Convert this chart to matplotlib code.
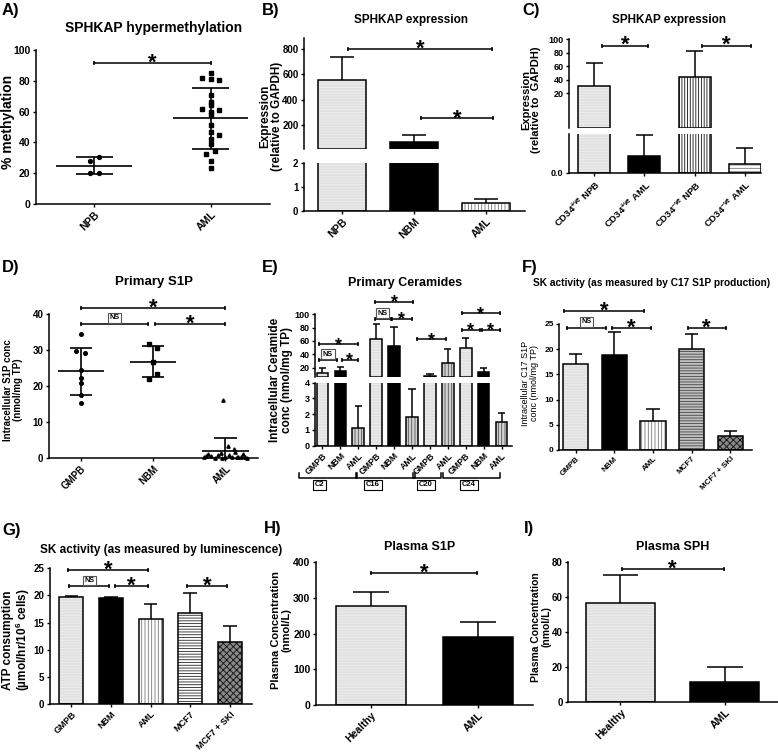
import numpy as np
import matplotlib
matplotlib.use('Agg')
import matplotlib.pyplot as plt
from matplotlib import transforms

plt.rcParams['font.family'] = ['Liberation Sans', 'DejaVu Sans']
plt.rcParams['font.weight'] = 'bold'
plt.rcParams['axes.labelweight'] = 'bold'
plt.rcParams['mathtext.fontset'] = 'custom'
plt.rcParams['mathtext.rm'] = 'Liberation Sans:bold'
plt.rcParams['mathtext.bf'] = 'Liberation Sans:bold'
plt.rcParams['mathtext.it'] = 'Liberation Sans:bold'
plt.rcParams['hatch.linewidth'] = 0.6

W, H = 778, 756

# ---------------- data ----------------
# A) SPHKAP hypermethylation (% methylation, individual samples)
a_groups = ['NPB', 'AML']
a_npb = [28, 30.5, 20, 20]
a_npb_dx = [-1, 1, -1, 1]
a_aml = [85, 82, 81, 80.5, 71, 66.5, 64, 62, 60, 61, 57.5, 51, 47, 45, 42, 39,
         32.5, 34.5, 28, 23.5]
a_aml_dx = [0, -1, 0, 1, 0, 0, 0, -1, 0, 1, 0, 0, 0, 1, 0, 0, -0.5, 0.5, 0, 0]
a_mean = [24.75, 55.8]
a_sd = [5.45, 19.8]

# B) SPHKAP expression (relative to GAPDH)
b_groups = ['NPB', 'NBM', 'AML']
b_vals = [555, 61, 0.34]
b_err = [180, 56, 0.15]
b_kind = ['light', 'black', 'vstripe']

# C) SPHKAP expression in CD34 fractions
c_groups = [r'CD34$^{+ve}$ NPB', r'CD34$^{+ve}$ AML',
            r'CD34$^{-ve}$ NPB', r'CD34$^{-ve}$ AML']
c_vals = [31.3, 0.44, 44.1, 0.23]
c_err = [33.4, 0.53, 38.7, 0.42]
c_kind = ['light', 'black', 'vdense', 'hgrey']

# D) Primary S1P (nmol/mg TP)
d_groups = ['GMPB', 'NBM', 'AML']
d_gmpb = [34.4, 29.7, 29.2, 24.4, 22.3, 20.7, 17.5, 15.3]
d_gmpb_dx = [0, -1, 1, 0, 0, 0, 0, 0]
d_nbm = [31.7, 30.6, 26.6, 23.2, 21.9]
d_nbm_dx = [-1, 1, 0, 1, -1]
d_aml = [16, 3.2, 2.4, 1.2, 0.5, 0.8, 1.5, 0.4, 0.3, 0.2, 0.2, 0.1, 0.3, 0.9,
         1.0, 0.1, 0.1, 1.8, 0.6, 0.2, 0.4]
d_aml_dx = [-0.1, 0.1, 0.4, -0.8, -0.65, -0.35, -0.2, 0.3, 0.6, 0.9, -1, -0.5,
            0, 0.15, 0.8, 1, -0.15, 0.45, -0.9, 0.55, 0.72]
d_mean = [24.1, 26.7, 1.95]
d_sd = [6.5, 4.3, 3.65]

# E) Primary ceramides
e_labels = ['GMPB', 'NBM', 'AML', 'GMPB', 'NBM', 'AML', 'GMPB', 'AML',
            'GMPB', 'NBM', 'AML']
e_vals = [12.4, 15, 1.15, 62.5, 53, 1.82, 7.5, 26.5, 50, 14, 1.52]
e_err = [6.6, 6.5, 1.37, 22.5, 28, 1.78, 2.3, 21.5, 14.5, 5.5, 0.58]
e_kind = ['light', 'black', 'vgrey', 'light', 'black', 'vgrey', 'light',
          'vgrey', 'light', 'black', 'vgrey']
e_groups = ['C2', 'C16', 'C20', 'C24']
e_group_span = [(-1.3, 1.92), (1.88, 5.17), (5.06, 6.62), (6.73, 9.91)]
e_group_lx = [-0.15, 2.83, 5.78, 8.17]

# F) SK activity (C17 S1P production)
f_groups = ['GMPB', 'NBM', 'AML', 'MCF7', 'MCF7 + SKI']
f_vals = [17.1, 18.8, 5.8, 20.0, 2.85]
f_err = [1.95, 4.7, 2.3, 3.1, 0.95]
f_kind = ['light', 'black', 'vstripe', 'hmid', 'check']

# G) SK activity (luminescence)
g_groups = ['GMPB', 'NBM', 'AML', 'MCF7', 'MCF7 + SKI']
g_vals = [19.7, 19.6, 15.7, 16.7, 11.5]
g_err = [0.2, 0.15, 2.7, 3.8, 2.95]
g_kind = ['light', 'black', 'vstripe', 'hblack', 'check']

# H) Plasma S1P, I) Plasma SPH
h_groups = ['Healthy', 'AML']
h_vals = [277, 189.5]
h_err = [40, 43.5]
i_vals = [56.5, 11.3]
i_err = [16, 8.4]

FILL = {
    'light': ('#e1e1e1', '------', '#eeeeee'),
    'black': ('black', None, None),
    'vstripe': ('white', '|||||', '#777777'),
    'vgrey': ('#d0d0d0', '|||||', '#555555'),
    'vdense': ('white', '||||||', '#111111'),
    'hgrey': ('white', '-----', '#777777'),
    'hblack': ('white', '------', '#222222'),
    'hmid': ('#c0c0c0', '------', '#444444'),
    'check': ('#888888', 'xxxxx', '#111111'),
}

fig = plt.figure(figsize=(W / 100, H / 100), dpi=100)


def px_ax(x0, y0, x1, y1):
    return fig.add_axes([x0 / W, 1 - y1 / H, (x1 - x0) / W, (y1 - y0) / H])


def ftext(x, y, s, **kw):
    kw.setdefault('ha', 'center')
    kw.setdefault('va', 'center')
    fig.text(x / W, 1 - y / H, s, **kw)


def style(ax, fs, bottom=True):
    for s in ['top', 'right']:
        ax.spines[s].set_visible(False)
    ax.spines['left'].set_linewidth(1.1)
    ax.spines['bottom'].set_linewidth(1.1)
    ax.tick_params(length=2.5, width=1.0, labelsize=fs, pad=1.5)
    if not bottom:
        ax.spines['bottom'].set_visible(False)
        ax.tick_params(axis='x', bottom=False, labelbottom=False)


def xlabels(ax, labels, fs):
    ax.set_xticks(range(len(labels)))
    ax.set_xticklabels(labels, rotation=45, ha='right', rotation_mode='anchor',
                       fontsize=fs)


def draw_bars(ax, vals, errs, kinds, width=0.65, cap=0.17, floor=None):
    base = ax.get_ylim()[0] if floor is not None else 0
    for xi, (v, e, k) in enumerate(zip(vals, errs, kinds)):
        if floor is not None and v <= floor:
            continue
        fc, hatch, hc = FILL[k]
        if hatch:
            ax.bar(xi, v - base, width, bottom=base, color=fc, edgecolor=hc,
                   hatch=hatch, linewidth=0)
            ax.bar(xi, v - base, width, bottom=base, facecolor='none',
                   edgecolor='black', linewidth=1.1)
        else:
            ax.bar(xi, v - base, width, bottom=base, color=fc,
                   edgecolor='black', linewidth=1.1)
        ax.vlines(xi, v, v + e, color='black', lw=1.1)
        ax.hlines(v + e, xi - cap, xi + cap, color='black', lw=1.1)


def mean_sd(ax, means, sds, half=0.325, cap=0.16):
    x = np.arange(len(means))
    lo = np.subtract(means, sds)
    hi = np.add(means, sds)
    ax.hlines(means, x - half, x + half, color='black', lw=1.2)
    ax.vlines(x, lo, hi, color='black', lw=1.2)
    ax.hlines(lo, x - cap, x + cap, color='black', lw=1.2)
    ax.hlines(hi, x - cap, x + cap, color='black', lw=1.2)


def sig(ax, x1, x2, y, fs=16, ns=False, hpx=7):
    ax.plot([x1, x2], [y, y], color='black', lw=1.1, marker='|', ms=3.5,
            mew=1.1, clip_on=False)
    xm = (x1 + x2) / 2
    if ns:
        ax.annotate('NS', (xm, y), xytext=(0, 1.6), textcoords='offset points',
                    ha='center', va='bottom', fontsize=5.2,
                    annotation_clip=False,
                    bbox=dict(boxstyle='square,pad=0.2', fc='white',
                              ec='#555555', lw=0.8))
    else:
        ax.annotate('*', (xm, y), xytext=(0, hpx / 1.389 - 0.58 * fs),
                    textcoords='offset points', ha='center', va='baseline',
                    fontsize=fs, annotation_clip=False)


# ---------------- A ----------------
axA = px_ax(36, 50, 270, 204)
axA.plot(0 + 0.04 * np.array(a_npb_dx), a_npb, 'o', color='black', ms=2.8)
axA.plot(1 + 0.075 * np.array(a_aml_dx), a_aml, 's', color='black', ms=2.6)
mean_sd(axA, a_mean, a_sd)
axA.set_xlim(-0.5, 1.51)
axA.set_ylim(0, 100)
axA.set_yticks(range(0, 101, 20))
style(axA, 7.5)
xlabels(axA, a_groups, 7.5)
sig(axA, 0, 1, 91.6)
ftext(154, 28, 'SPHKAP hypermethylation', fontsize=10)
ftext(8, 122, '% methylation', fontsize=10, rotation=90)
ftext(2, 11, 'A)', fontsize=12, ha='left')

# ---------------- B ----------------
axB1 = px_ax(304, 38, 525, 149)
axB2 = px_ax(304, 163, 525, 211)
axB1.set_ylim(6, 890)
axB2.set_ylim(0, 2)
for ax in (axB1, axB2):
    ax.set_xlim(-0.53, 2.54)
draw_bars(axB1, b_vals, b_err, b_kind, width=0.66, floor=2)
draw_bars(axB2, b_vals, b_err, b_kind, width=0.66)
axB1.set_yticks([200, 400, 600, 800])
axB2.set_yticks([0, 1, 2])
style(axB1, 7, bottom=False)
style(axB2, 7)
xlabels(axB2, b_groups, 7.5)
sig(axB1, 0.08, 2.08, 800)
sig(axB1, 1.1, 2.1, 249)
ftext(411, 20, 'SPHKAP expression', fontsize=8.5)
ftext(271, 116, 'Expression\n(relative to GAPDH)', fontsize=8.5, rotation=90,
      linespacing=1.0)
ftext(262, 11, 'B)', fontsize=12, ha='left')

# ---------------- C ----------------
axC1 = px_ax(569, 39, 761, 128)
axC2 = px_ax(569, 134, 761, 173)
axC1.set_ylim(-30.9, 100.4)
axC2.set_ylim(0, 1.0)
for ax in (axC1, axC2):
    ax.set_xlim(-0.5, 3.32)
draw_bars(axC1, c_vals, c_err, c_kind, width=0.64, floor=1.0)
draw_bars(axC2, c_vals, c_err, c_kind, width=0.64)
axC1.set_yticks([20, 40, 60, 80, 100])
axC2.set_yticks([0])
axC2.set_yticklabels(['0.0'])
style(axC1, 6.5, bottom=False)
style(axC2, 6.5)
xlabels(axC2, c_groups, 6.8)
sig(axC1, 0.16, 1.07, 90.6, hpx=8)
sig(axC1, 2.15, 3.12, 90.6, hpx=8)
ftext(669, 20, 'SPHKAP expression', fontsize=8.5)
ftext(531, 100, 'Expression\n(relative to  GAPDH)', fontsize=8, rotation=90,
      linespacing=1.0)
ftext(522, 11, 'C)', fontsize=12, ha='left')

# ---------------- D ----------------
axD = px_ax(49, 314, 258, 458)
axD.plot(0 + 0.06 * np.array(d_gmpb_dx), d_gmpb, 'o', color='black', ms=2.6)
axD.plot(1 + 0.06 * np.array(d_nbm_dx), d_nbm, 's', color='black', ms=2.5)
axD.plot(2 + 0.3 * np.array(d_aml_dx), d_aml, '^', color='black', ms=2.4,
         clip_on=False)
mean_sd(axD, d_mean, d_sd, half=0.32, cap=0.156)
axD.set_xlim(-0.44, 2.45)
axD.set_ylim(0, 40)
axD.set_yticks(range(0, 41, 10))
style(axD, 7)
xlabels(axD, d_groups, 7)
sig(axD, 0, 2, 41.75)
sig(axD, 0, 0.93, 37.3, ns=True)
sig(axD, 1.03, 2, 37.3)
ftext(154, 282, 'Primary S1P', fontsize=9.5)
ftext(13, 390, 'Intracellular S1P conc\n(nmol/mg TP)', fontsize=7, rotation=90,
      linespacing=1.1)
ftext(2, 268, 'D)', fontsize=12, ha='left')

# ---------------- E ----------------
axE1 = px_ax(315, 314.3, 511.7, 376.7)
axE2 = px_ax(315, 382.7, 511.7, 445.7)
axE1.set_ylim(6.45, 100)
axE2.set_ylim(0, 4)
for ax in (axE1, axE2):
    ax.set_xlim(-0.41, 10.56)
draw_bars(axE1, e_vals, e_err, e_kind, width=0.64, cap=0.2, floor=4)
draw_bars(axE2, e_vals, e_err, e_kind, width=0.64, cap=0.2)
axE1.set_yticks([20, 40, 60, 80, 100])
axE2.set_yticks([0, 1, 2, 3, 4])
style(axE1, 6.5, bottom=False)
style(axE2, 6.5)
xlabels(axE2, e_labels, 6.3)
sig(axE1, -0.17, 1.97, 55, fs=13, hpx=5)
sig(axE1, -0.17, 0.8, 31.5, ns=True)
sig(axE1, 1.08, 1.97, 31.5, fs=13, hpx=5)
sig(axE1, 2.94, 5.08, 118.9, fs=13, hpx=5)
sig(axE1, 2.94, 3.81, 93, ns=True)
sig(axE1, 3.9, 4.98, 93, fs=13, hpx=5)
sig(axE1, 5.3, 6.9, 62.5, fs=13, hpx=5)
sig(axE1, 7.78, 9.9, 101.5, fs=13, hpx=5)
sig(axE1, 7.78, 8.8, 76.5, fs=13, hpx=5)
sig(axE1, 8.9, 9.9, 76.5, fs=13, hpx=5)
tr = transforms.blended_transform_factory(axE2.transData, fig.transFigure)
yb, hb = 1 - 478 / H, 5 / H
for (x1, x2), lx, g in zip(e_group_span, e_group_lx, e_groups):
    axE2.plot([x1, x1, x2, x2], [yb + hb, yb, yb, yb + hb], transform=tr,
              color='black', lw=1.1, clip_on=False)
    axE2.text(lx, 1 - 485 / H, g, transform=tr, ha='center', va='center',
              fontsize=5.5, bbox=dict(boxstyle='square,pad=0.25', fc='white',
                                      ec='black', lw=0.8))
ftext(405, 283, 'Primary Ceramides', fontsize=9)
ftext(281, 380, 'Intracellular Ceramide\nconc (nmol/mg TP)', fontsize=8.5,
      rotation=90, linespacing=1.0)
ftext(262, 268, 'E)', fontsize=12, ha='left')

# ---------------- F ----------------
axF = px_ax(559.3, 324, 751.7, 450)
axF.set_xlim(-0.42, 4.55)
axF.set_ylim(0, 25)
draw_bars(axF, f_vals, f_err, f_kind, width=0.65)
axF.set_yticks(range(0, 26, 5))
style(axF, 6)
xlabels(axF, f_groups, 5.8)
sig(axF, -0.29, 1.77, 27.6)
sig(axF, -0.23, 0.78, 24.3, ns=True)
sig(axF, 0.93, 1.95, 24.3)
sig(axF, 2.9, 3.88, 24.3)
ftext(652, 283, 'SK activity (as measured by C17 S1P production)', fontsize=7.3)
ftext(530, 383, 'Intracellular C17 S1P\nconc (nmol/mg TP)', fontsize=6.5,
      rotation=90, linespacing=1.1, fontweight='normal')
ftext(522, 268, 'F)', fontsize=12, ha='left')

# ---------------- G ----------------
axG = px_ax(50, 568.3, 252, 704)
axG.set_xlim(-0.54, 4.56)
axG.set_ylim(0, 25)
draw_bars(axG, g_vals, g_err, g_kind, width=0.61)
axG.set_yticks(range(0, 26, 5))
style(axG, 7)
xlabels(axG, g_groups, 6.5)
sig(axG, -0.08, 1.93, 24.7)
sig(axG, -0.06, 0.96, 21.7, ns=True)
sig(axG, 1.1, 1.94, 21.7)
sig(axG, 2.93, 3.93, 21.7)
ftext(161, 550, 'SK activity (as measured by luminescence)', fontsize=8.5)
ftext(17, 640, 'ATP consumption\n(µmol/hr/10$^6$ cells)', fontsize=8.5,
      rotation=90, linespacing=1.0)
ftext(2, 531, 'G)', fontsize=12, ha='left')

# ---------------- H ----------------
axH = px_ax(316, 562.3, 533, 705)
axH.set_xlim(-0.51, 1.51)
axH.set_ylim(0, 400)
draw_bars(axH, h_vals, h_err, ['light', 'black'], width=0.65)
axH.set_yticks(range(0, 401, 100))
style(axH, 7.5)
xlabels(axH, h_groups, 7.5)
sig(axH, 0, 0.99, 370.6)
ftext(420, 547, 'Plasma S1P', fontsize=9)
ftext(281, 630, 'Plasma Concentration\n(nmol/L)', fontsize=8, rotation=90,
      linespacing=1.0)
ftext(264, 528, 'H)', fontsize=12, ha='left')

# ---------------- I ----------------
axI = px_ax(568.3, 562.3, 778, 701.7)
axI.set_xlim(-0.5, 1.51)
axI.set_ylim(0, 80)
draw_bars(axI, i_vals, i_err, ['light', 'black'], width=0.66)
axI.set_yticks(range(0, 81, 20))
style(axI, 7)
xlabels(axI, h_groups, 7.5)
sig(axI, 0.01, 0.99, 76.2)
ftext(673, 547, 'Plasma SPH', fontsize=9)
ftext(541, 627, 'Plasma Concentration\n(nmol/L)', fontsize=7.5, rotation=90,
      linespacing=1.0)
ftext(524, 529, 'I)', fontsize=12, ha='left')

fig.savefig('out.png', dpi=100)
